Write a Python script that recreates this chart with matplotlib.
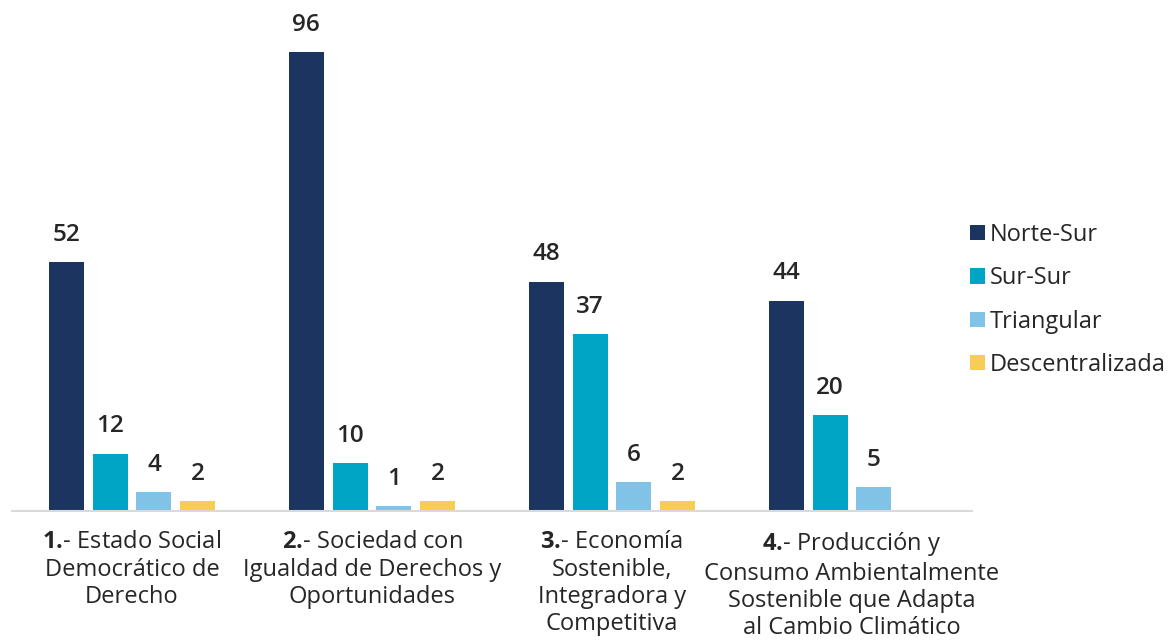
import numpy as np
import matplotlib
matplotlib.use('Agg')
import matplotlib.pyplot as plt

plt.rcParams['font.family'] = ['Open Sans', 'DejaVu Sans']
plt.rcParams['mathtext.fontset'] = 'custom'
plt.rcParams['mathtext.rm'] = 'Open Sans'
plt.rcParams['mathtext.bf'] = 'Open Sans:bold'

categories = [
    "$\\mathbf{1.}\\!$- Estado Social\nDemocrático de\nDerecho",
    "$\\mathbf{2.}\\!$- Sociedad con\nIgualdad de Derechos y\nOportunidades",
    "$\\mathbf{3.}\\!$- Economía\nSostenible,\nIntegradora y\nCompetitiva",
    "$\\mathbf{4.}\\!$- Producción y\nConsumo Ambientalmente\nSostenible que Adapta\nal Cambio Climático",
]
series = ['Norte-Sur', 'Sur-Sur', 'Triangular', 'Descentralizada']
norte_sur = [52, 96, 48, 44]
sur_sur = [12, 10, 37, 20]
triangular = [4, 1, 6, 5]
descentralizada = [2, 2, 2, np.nan]
colors = ['#1c3560', '#00a4c4', '#80c3e6', '#f9cd55']

fig = plt.figure(figsize=(11.71, 6.43), dpi=100)
ax = fig.add_axes([12/1171, 1 - 511/643, 960/1171, 478/643])

x = np.arange(len(categories))
offsets = np.array([-1.5, -0.5, 0.5, 1.5]) * 0.183
width = 0.146

for vals, name, col, off in zip([norte_sur, sur_sur, triangular, descentralizada], series, colors, offsets):
    bars = ax.bar(x + off, vals, width, color=col, label=name)
    for b, v in zip(bars, vals):
        if np.isnan(v):
            continue
        ax.annotate(str(int(v)), (b.get_x() + b.get_width()/2, v),
                    xytext=(0, 11), textcoords='offset points',
                    ha='center', va='bottom', fontsize=17.5,
                    fontweight='semibold', color='#262626')

ax.set_xlim(-0.5, 3.5)
ax.set_ylim(0, 100)
ax.set_yticks([])
ax.set_xticks(x)
ax.set_xticklabels(categories, fontsize=17, color='#262626', linespacing=1.17)
ax.tick_params(axis='x', length=0, pad=14)
for s in ['top', 'right', 'left']:
    ax.spines[s].set_visible(False)
ax.spines['bottom'].set_color('#d9d9d9')
ax.spines['bottom'].set_linewidth(1.5)

fig.legend(loc='center left', bbox_to_anchor=(970/1171, 1 - 300/643),
           frameon=False, fontsize=17, handlelength=0.62, handleheight=0.62,
           handletextpad=0.22, labelspacing=0.82, borderaxespad=0, borderpad=0,
           labelcolor='#262626')

fig.savefig('out.png', dpi=100)
